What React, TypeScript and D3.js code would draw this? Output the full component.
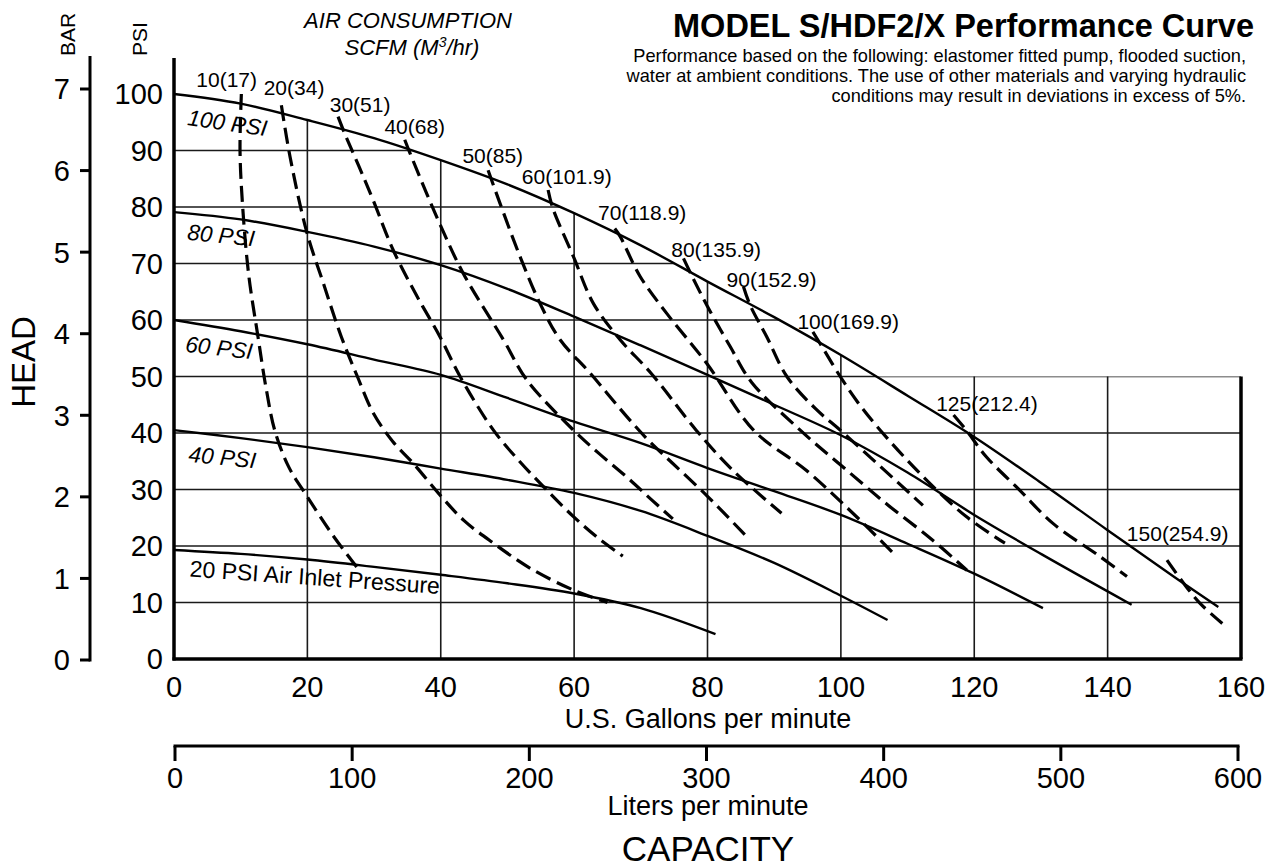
import React from "react";
import * as d3 from "d3";

// ---------- data ----------
const gpmTicks = [0, 20, 40, 60, 80, 100, 120, 140, 160];
const lpmTicks = [0, 100, 200, 300, 400, 500, 600];
const psiTicks = [0, 10, 20, 30, 40, 50, 60, 70, 80, 90, 100];
const barTicks = [0, 1, 2, 3, 4, 5, 6, 7];
const gridGpm = [20, 40, 60, 80, 100, 120, 140];
const gridPsi = [10, 20, 30, 40, 50, 60, 70, 80, 90];

// head (psi) vs flow (gpm) at air inlet pressures
const psi100: [number, number][] = [[0, 100], [10, 98.3], [20, 95.4], [30, 92.2], [40, 88.3], [50, 84], [60, 78.9], [70, 73.2], [80, 66.8], [90, 60.5], [100, 53.8], [110, 46.6], [120, 39.3], [130, 31.2], [140, 22.8], [150, 14.5], [156.6, 9.2]];
const psi80: [number, number][] = [[0, 79.1], [10, 77.8], [20, 75.6], [30, 73], [40, 69.7], [50, 65.5], [60, 60.6], [70, 55.5], [80, 50.3], [90, 45], [100, 39.6], [110, 33], [120, 25.5], [130, 18.6], [143.6, 9.6]];
const psi60: [number, number][] = [[0, 60], [10, 58], [20, 55.7], [30, 53], [40, 50.3], [50, 46.2], [60, 42], [70, 38.2], [80, 33.8], [90, 29.7], [100, 25.5], [110, 20.4], [120, 15.1], [130.3, 9]];
const psi40: [number, number][] = [[0, 40.5], [10, 39.1], [20, 37.5], [30, 35.7], [40, 33.7], [50, 31.7], [60, 29.4], [70, 26.2], [80, 21.8], [90, 17], [100, 11.2], [107, 6.9]];
const psi20: [number, number][] = [[0, 19.3], [10, 18.6], [20, 17.6], [30, 16.3], [40, 14.9], [50, 13.4], [60, 11.6], [70, 9], [81.2, 4.4]];

const pressureNames = ["100 PSI", "80 PSI", "60 PSI", "40 PSI", "20 PSI Air Inlet Pressure"];
const pressureSeries = [psi100, psi80, psi60, psi40, psi20];
const pressureLabelGpm = [1.9, 1.9, 1.6, 2.1, 2.3];
const pressureLabelPsi = [94.5, 74.2, 54.4, 34.9, 14.6];
const pressureLabelAngle = [8, 5.5, 6.5, 5.5, 4];

// air consumption SCFM (m3/hr)
const air10: [number, number][] = [[10.1, 100], [9.9, 90], [10.3, 80], [11.2, 68], [12.6, 57], [13.8, 48], [15.1, 40.5], [17.2, 34], [20, 28.7], [24, 21.6], [27.4, 16.3]];
const air20: [number, number][] = [[16.1, 98], [17.4, 88.9], [19.9, 75.6], [22.4, 66.5], [25.1, 57], [27.5, 50], [29.9, 43.5], [32.8, 38.5], [35.9, 34.6], [39.9, 29], [43.5, 24.5], [47.9, 20.5], [53.5, 16], [59.9, 12.2], [65, 10]];
const air30: [number, number][] = [[24.6, 96], [25.6, 93], [27.8, 87], [29.9, 81.1], [32.9, 72.3], [36.3, 64.5], [39.9, 57], [42.9, 50], [47.9, 40.5], [51.8, 35], [55.9, 29.9], [59.9, 25.2], [63.5, 21.5], [67.3, 18.2]];
const air40: [number, number][] = [[34.6, 91.9], [35.4, 89.5], [39.6, 77.7], [43.4, 68.2], [49.4, 56.5], [52.9, 49.4], [59.9, 40.5], [63.8, 36.3], [67.9, 32.2], [71.5, 28.3], [74.8, 24.8]];
const air50: [number, number][] = [[47.1, 86.5], [48.9, 80.6], [51.9, 71.2], [54.9, 62.9], [57.9, 56.5], [62.4, 50.6], [67.9, 42.9], [71.3, 38.5], [74.8, 34.6], [80, 28.8], [85.6, 22]];
const air60: [number, number][] = [[56.1, 83], [56.8, 79.8], [59.9, 71.2], [62.9, 62.9], [66.9, 56.5], [71.6, 50.5], [78.3, 40.5], [83.8, 33.4], [91.1, 25.8]];
const air70: [number, number][] = [[66.1, 76.2], [66.9, 74.8], [69.9, 67.7], [74, 61], [79.9, 52.3], [86.9, 40.5], [94.8, 33.4], [101.8, 25.8], [107.9, 18.7]];
const air80: [number, number][] = [[76.4, 70.9], [77.7, 67.7], [80, 62.4], [83.4, 55.3], [86.6, 49], [93.9, 40.5], [100.5, 33.8], [107, 27.3], [113.5, 21.3], [118.9, 15.7]];
const air90: [number, number][] = [[85.4, 65.9], [86.4, 62.6], [88.9, 57], [91.9, 50], [96.2, 44.3], [99.9, 40.5], [104.5, 35.6], [108.5, 31.3], [112.3, 27.2]];
const air100: [number, number][] = [[95.8, 57.9], [96.9, 55.8], [99.9, 50], [102.5, 45.5], [105.9, 40.5], [111.9, 32.8], [118.8, 25.2], [124.6, 20.5]];
const air125: [number, number][] = [[116.9, 43.2], [118.8, 40.5], [121.8, 35.8], [126.8, 29.9], [131.8, 24], [138.9, 18.1], [142.9, 14.6]];
const air150: [number, number][] = [[148.9, 17.5], [151.4, 13.4], [153.9, 9.8], [157.2, 6.3]];

const airNames = ["10(17)", "20(34)", "30(51)", "40(68)", "50(85)", "60(101.9)", "70(118.9)", "80(135.9)", "90(152.9)", "100(169.9)", "125(212.4)", "150(254.9)"];
const airSeries = [air10, air20, air30, air40, air50, air60, air70, air80, air90, air100, air125, air150];
const airLabelGpm = [7.9, 18.0, 27.9, 36.1, 47.8, 58.9, 70.2, 81.3, 89.6, 101.1, 121.9, 150.5];
const airLabelPsi = [101.2, 99.9, 96.8, 92.9, 87.8, 84.0, 77.7, 71.2, 65.9, 58.4, 43.9, 20.9];

const subtitleLines = [
  "Performance based on the following: elastomer fitted pump, flooded suction,",
  "water at ambient conditions. The use of other materials and varying hydraulic",
  "conditions may result in deviations in excess of 5%.",
];

// ---------- chart ----------
const W = 1276;
const H = 867;
const FONT = "'Liberation Sans', Arial, Helvetica, sans-serif";

export default function App() {
  const x = d3.scaleLinear().domain([0, 160]).range([174, 1241]);
  const y = d3.scaleLinear().domain([0, 100]).range([659, 94]);
  const barY = d3.scaleLinear().domain([0, 7]).range([660, 89]);
  const lpmX = d3.scaleLinear().domain([0, 600]).range([175, 1238]);

  const line = d3
    .line<[number, number]>()
    .x((d) => x(d[0]))
    .y((d) => y(d[1]))
    .curve(d3.curveCatmullRom.alpha(0.5));

  const envelope = d3
    .area<[number, number]>()
    .x((d) => x(d[0]))
    .y0(y(0))
    .y1((d) => y(d[1]))
    .curve(d3.curveCatmullRom.alpha(0.5));

  const gridColor = "#1a1a1a";
  const lpmAxisY = 746;

  return (
    <svg
      width={W}
      height={H}
      style={{ position: "absolute", left: 0, top: 0, background: "#fff" }}
      fontFamily={FONT}
    >
      <defs>
        <clipPath id="gridClip">
          <path d={envelope(psi100) || ""} />
          <rect x={x(0)} y={y(50)} width={x(160) - x(0)} height={y(0) - y(50)} />
        </clipPath>
      </defs>
      <rect width={W} height={H} fill="#fff" />

      {/* grid */}
      <g clipPath="url(#gridClip)" stroke={gridColor} strokeWidth={1.6}>
        {gridGpm.map((g) => (
          <line key={"vg" + g} x1={x(g)} x2={x(g)} y1={y(0)} y2={y(100)} />
        ))}
        {gridPsi.map((p) => (
          <line key={"hg" + p} x1={x(0)} x2={x(160)} y1={y(p)} y2={y(p)} />
        ))}
      </g>

      {/* frame */}
      <line x1={x(0)} x2={x(0)} y1={58} y2={y(0) + 1.5} stroke="#000" strokeWidth={3.5} />
      <line x1={x(0) - 1.5} x2={x(160) + 1.5} y1={y(0)} y2={y(0)} stroke="#000" strokeWidth={3.5} />
      <line x1={x(160)} x2={x(160)} y1={y(50)} y2={y(0)} stroke="#000" strokeWidth={3.5} />

      {/* pressure curves */}
      {pressureSeries.map((s, i) => (
        <path key={"pc" + i} d={line(s) || ""} fill="none" stroke="#000" strokeWidth={2.4} />
      ))}

      {/* air consumption curves */}
      {airSeries.map((s, i) => (
        <path
          key={"ac" + i}
          d={line(s) || ""}
          fill="none"
          stroke="#000"
          strokeWidth={3.2}
          strokeDasharray="16 7"
        />
      ))}

      {/* pressure labels */}
      {pressureNames.map((n, i) => (
        <text
          key={"pl" + i}
          transform={`translate(${x(pressureLabelGpm[i])},${y(pressureLabelPsi[i])}) rotate(${pressureLabelAngle[i]})`}
          fontSize={i === 4 ? 23 : 22.5}
          fontStyle={i === 4 ? "normal" : "italic"}
          fill="#000"
        >
          {n}
        </text>
      ))}

      {/* air labels */}
      {airNames.map((n, i) => (
        <text
          key={"al" + i}
          x={x(airLabelGpm[i])}
          y={y(airLabelPsi[i])}
          textAnchor="middle"
          fontSize={21}
          fill="#000"
        >
          {n}
        </text>
      ))}

      {/* PSI axis labels */}
      {psiTicks.map((p) => (
        <text key={"pt" + p} x={163} y={y(p) + 10.4} textAnchor="end" fontSize={29}>
          {p}
        </text>
      ))}

      {/* BAR axis */}
      <line x1={90} x2={90} y1={56} y2={barY(0) + 1.5} stroke="#000" strokeWidth={3} />
      {barTicks.map((b) => (
        <g key={"bt" + b}>
          <line x1={80} x2={90} y1={barY(b)} y2={barY(b)} stroke="#000" strokeWidth={3} />
          <text x={70} y={barY(b) + 10.4} textAnchor="end" fontSize={29}>
            {b}
          </text>
        </g>
      ))}

      {/* GPM tick labels */}
      {gpmTicks.map((g) => (
        <text key={"gt" + g} x={x(g)} y={697} textAnchor="middle" fontSize={29}>
          {g}
        </text>
      ))}
      <text x={708} y={728} textAnchor="middle" fontSize={27}>
        U.S. Gallons per minute
      </text>

      {/* LPM axis */}
      <line x1={lpmX(0) - 1.5} x2={lpmX(600) + 1.5} y1={lpmAxisY} y2={lpmAxisY} stroke="#000" strokeWidth={3} />
      {lpmTicks.map((l) => (
        <g key={"lt" + l}>
          <line x1={lpmX(l)} x2={lpmX(l)} y1={lpmAxisY} y2={lpmAxisY + 15} stroke="#000" strokeWidth={3} />
          <text x={lpmX(l)} y={788} textAnchor="middle" fontSize={29}>
            {l}
          </text>
        </g>
      ))}
      <text x={708} y={815} textAnchor="middle" fontSize={27}>
        Liters per minute
      </text>
      <text x={708} y={861} textAnchor="middle" fontSize={35}>
        CAPACITY
      </text>

      {/* vertical titles */}
      <text transform="translate(35,362) rotate(-90)" textAnchor="middle" fontSize={33}>
        HEAD
      </text>
      <text transform="translate(75,56) rotate(-90)" textAnchor="start" fontSize={21}>
        BAR
      </text>
      <text transform="translate(147,56) rotate(-90)" textAnchor="start" fontSize={21}>
        PSI
      </text>

      {/* air consumption heading */}
      <text x={408} y={28} textAnchor="middle" fontSize={22} fontStyle="italic">
        AIR CONSUMPTION
      </text>
      <text x={412} y={55} textAnchor="middle" fontSize={22} fontStyle="italic">
        SCFM (M
        <tspan fontSize={14} dy={-8}>
          3
        </tspan>
        <tspan dy={8}>/hr)</tspan>
      </text>

      {/* title */}
      <text x={1254} y={37} textAnchor="end" fontSize={32.5} fontWeight="bold">
        MODEL S/HDF2/X Performance Curve
      </text>
      {subtitleLines.map((s, i) => (
        <text key={"st" + i} x={1246} y={61.5 + i * 20} textAnchor="end" fontSize={18.2}>
          {s}
        </text>
      ))}
    </svg>
  );
}
